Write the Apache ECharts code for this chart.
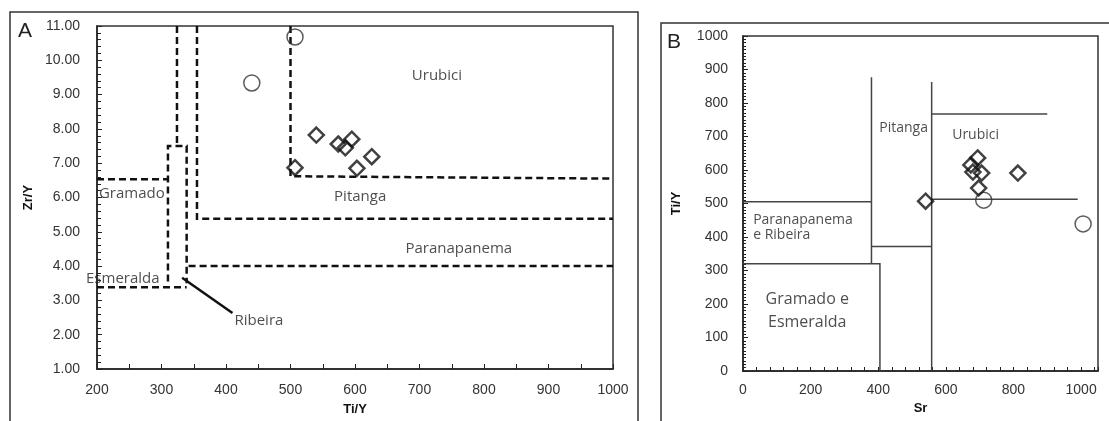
<!DOCTYPE html>
<html>
<head>
<meta charset="utf-8">
<script src="https://cdn.jsdelivr.net/npm/echarts@6/dist/echarts.min.js"></script>
<style>
    html, body { margin: 0; background: #fff; }
    #chart { width: 1109px; height: 421px; }
</style>
</head>
<body>
<div id="chart"></div>
<script>
// ---- panel A : Zr/Y vs Ti/Y ----
const tiA_diamond = [540, 574, 585, 595, 626, 603, 507];
const zrA_diamond = [7.82, 7.56, 7.45, 7.70, 7.19, 6.85, 6.87];
const tiA_circle = [507, 440];
const zrA_circle = [10.68, 9.34];

// dashed field boundaries (each one a polyline)
const boundsA = [
    [[200, 6.53], [310, 6.53]],
    [[324, 11], [324, 7.5]],
    [[310, 3.55], [310, 7.5], [339, 7.5], [339, 3.5]],
    [[200, 3.38], [339, 3.38]],
    [[355, 11], [355, 5.38], [1000, 5.38]],
    [[342, 4.0], [1000, 4.0]],
    [[500, 11], [500, 6.62], [1000, 6.55]]
];
const ribeiraPointer = [[332, 3.66], [410, 2.63]];

const labelsA = [
    ['Urubici', 727, 9.54],
    ['Pitanga', 608, 6.01],
    ['Paranapanema', 761, 4.52],
    ['Gramado', 254, 6.10],
    ['Esmeralda', 240, 3.64],
    ['Ribeira', 451, 2.40]
];

// ---- panel B : Ti/Y vs Sr ----
const srB_diamond = [540, 694, 674, 680, 706, 697, 813];
const tiB_diamond = [507, 636, 615, 594, 591, 546, 591];
const srB_circle = [712, 1006];
const tiB_circle = [510, 439];

const boundsB = [
    [[0, 505], [380, 505]],
    [[380, 877], [380, 320]],
    [[0, 320], [405, 320], [405, 0]],
    [[380, 372], [558, 372]],
    [[558, 863], [558, 0]],
    [[558, 767], [900, 767]],
    [[558, 513], [990, 513]]
];

const labelsB = [
    ['Pitanga', 475, 725],
    ['Urubici', 688, 704]
];
const labelsBLeft = [
    ['Paranapanema', 30, 451],
    ['e Ribeira', 30, 406]
];
const labelsBBig = [
    ['Gramado e\nEsmeralda', 190, 180]
];

const zip = (a, b) => a.map((v, i) => [v, b[i]]);

const tickFont = {fontFamily: 'Liberation Sans, Arial', fontSize: 14, color: '#333'};
const nameFont = {fontFamily: 'Liberation Sans, Arial', fontSize: 13, fontWeight: 'bold', color: '#111'};
const textFont = {fontFamily: 'Open Sans', fontSize: 15, color: '#222'};

const chart = echarts.init(document.getElementById('chart'));

function lineSeries(bounds, xi, style) {
    return {
        type: 'lines',
        coordinateSystem: 'cartesian2d',
        xAxisIndex: xi, yAxisIndex: xi,
        polyline: true,
        silent: true,
        lineStyle: style,
        data: bounds.map(b => ({coords: b}))
    };
}

function labelSeries(list, xi, pos, font) {
    return {
        type: 'scatter',
        xAxisIndex: xi, yAxisIndex: xi,
        symbolSize: 0,
        silent: true,
        data: list.map(l => [l[1], l[2], l[0]]),
        label: Object.assign({
            show: true,
            position: pos,
            distance: 0,
            formatter: p => p.value[2]
        }, font)
    };
}

const diamondStyle = {color: 'transparent', borderColor: '#111', borderWidth: 2.5};
const circleStyle = {color: 'transparent', borderColor: '#333', borderWidth: 1.5};
const tickStyle = {color: '#222', width: 1};

chart.setOption({
    animation: false,
    grid: [
        {left: 97, top: 26, width: 516, height: 349, show: true, borderColor: '#333', borderWidth: 1.5},
        {left: 743, top: 36, width: 355, height: 335, show: true, borderColor: '#333', borderWidth: 1.5}
    ],
    xAxis: [
        {
            gridIndex: 0, type: 'value', min: 200, max: 1000, interval: 100,
            name: 'Ti/Y', nameLocation: 'middle', nameGap: 34, nameTextStyle: nameFont,
            axisLine: {lineStyle: {color: '#222', width: 1.5}},
            axisTick: {inside: true, length: 5, lineStyle: tickStyle},
            minorTick: {show: true, splitNumber: 2, length: 5, lineStyle: tickStyle},
            splitLine: {show: false},
            axisLabel: Object.assign({margin: 14, formatter: v => String(v)}, tickFont)
        },
        {
            gridIndex: 1, type: 'value', min: 0, max: 1050, interval: 40,
            name: 'Sr', nameLocation: 'middle', nameGap: 30, nameTextStyle: nameFont,
            axisLine: {lineStyle: {color: '#222', width: 1.5}},
            axisTick: {inside: true, length: 4, lineStyle: tickStyle},
            splitLine: {show: false},
            axisLabel: Object.assign({
                margin: 12,
                formatter: v => (v % 200 === 0 ? String(v) : '')
            }, tickFont)
        }
    ],
    yAxis: [
        {
            gridIndex: 0, type: 'value', min: 1, max: 11, interval: 1,
            name: 'Zr/Y', nameLocation: 'middle', nameGap: 62, nameTextStyle: nameFont,
            axisLine: {lineStyle: {color: '#222', width: 1.5}},
            axisTick: {inside: true, length: 5, lineStyle: tickStyle},
            minorTick: {show: true, splitNumber: 5, length: 4, lineStyle: tickStyle},
            splitLine: {show: false},
            axisLabel: Object.assign({margin: 17, formatter: v => v.toFixed(2)}, tickFont)
        },
        {
            gridIndex: 1, type: 'value', min: 0, max: 1000, interval: 100,
            name: 'Ti/Y', nameLocation: 'middle', nameGap: 60, nameTextStyle: nameFont,
            axisLine: {lineStyle: {color: '#222', width: 1.5}},
            axisTick: {inside: true, length: 5, lineStyle: tickStyle},
            minorTick: {show: true, splitNumber: 10, length: 3, lineStyle: tickStyle},
            splitLine: {show: false},
            axisLabel: Object.assign({margin: 15, formatter: v => String(v)}, tickFont)
        }
    ],
    graphic: [
        {type: 'rect', shape: {x: 10, y: 12, width: 628, height: 430}, style: {fill: 'none', stroke: '#333', lineWidth: 1.5}, silent: true},
        {type: 'rect', shape: {x: 661, y: 23, width: 460, height: 430}, style: {fill: 'none', stroke: '#333', lineWidth: 1.5}, silent: true},
        {type: 'text', left: 18, top: 21, style: {text: 'A', font: '21px "Liberation Sans", Arial', fill: '#222'}},
        {type: 'text', left: 667, top: 32, style: {text: 'B', font: '21px "Liberation Sans", Arial', fill: '#222'}}
    ],
    series: [
        lineSeries(boundsA, 0, {color: '#111', width: 2.5, type: [7, 4], opacity: 1}),
        lineSeries([ribeiraPointer], 0, {color: '#111', width: 2.5, type: 'solid', opacity: 1}),
        lineSeries(boundsB, 1, {color: '#444', width: 1.5, type: 'solid', opacity: 1}),
        labelSeries(labelsA, 0, 'inside', textFont),
        labelSeries(labelsB, 1, 'inside', Object.assign({}, textFont, {fontSize: 14})),
        labelSeries(labelsBLeft, 1, 'right', Object.assign({}, textFont, {fontSize: 14})),
        labelSeries(labelsBBig, 1, 'inside', Object.assign({}, textFont, {fontSize: 16, lineHeight: 23, align: 'center'})),
        {
            name: 'circles A', type: 'scatter', xAxisIndex: 0, yAxisIndex: 0,
            symbol: 'circle', symbolSize: 16, itemStyle: circleStyle,
            data: zip(tiA_circle, zrA_circle)
        },
        {
            name: 'diamonds A', type: 'scatter', xAxisIndex: 0, yAxisIndex: 0,
            symbol: 'diamond', symbolSize: 15, itemStyle: diamondStyle,
            data: zip(tiA_diamond, zrA_diamond)
        },
        {
            name: 'circles B', type: 'scatter', xAxisIndex: 1, yAxisIndex: 1,
            symbol: 'circle', symbolSize: 16, itemStyle: circleStyle,
            data: zip(srB_circle, tiB_circle)
        },
        {
            name: 'diamonds B', type: 'scatter', xAxisIndex: 1, yAxisIndex: 1,
            symbol: 'diamond', symbolSize: 15, itemStyle: diamondStyle,
            data: zip(srB_diamond, tiB_diamond)
        }
    ]
});
</script>
</body>
</html>
